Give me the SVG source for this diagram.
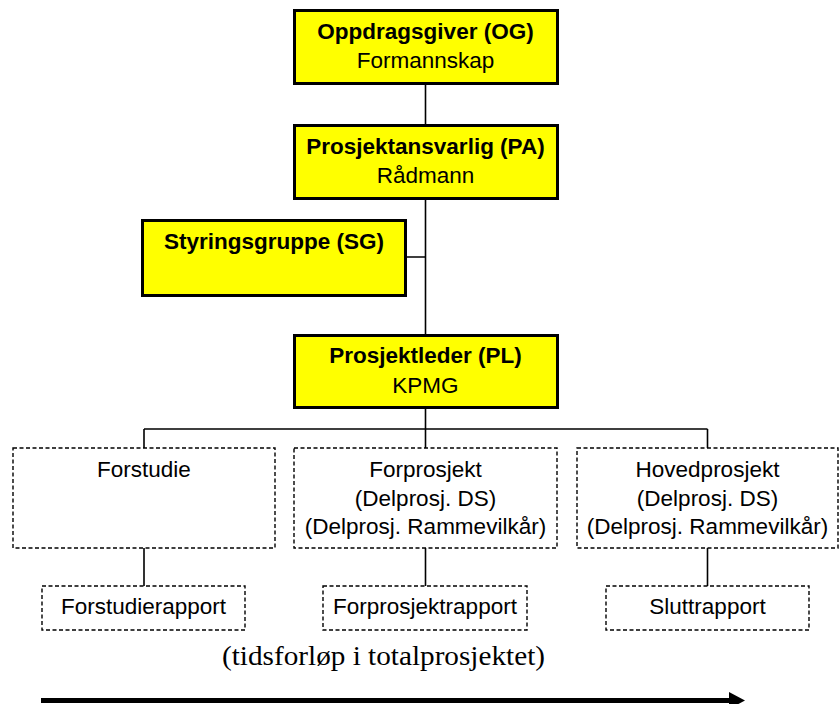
<svg xmlns="http://www.w3.org/2000/svg" width="839" height="704" viewBox="0 0 839 704">
<style>
.y{fill:#FFFF00;stroke:#000;stroke-width:3}
.d{fill:#fff;stroke:#000;stroke-width:1.4;stroke-dasharray:4 2.5}
.t{font-family:"Liberation Sans",Arial,sans-serif;font-size:22.5px;fill:#000;text-anchor:middle}
.b{font-weight:bold}
.c{stroke:#000;stroke-width:1.6;fill:none}
</style>
<rect width="839" height="704" fill="#fff"/>
<g id="connectors">
<path class="c" d="M425.5 84V124M425.5 199V334M406 257H425.5M425.5 408V448M144 429H707.5M144 429V448M707.5 429V448M144 548V586M425.5 548V586M707.5 548V586"/>
</g>
<g id="og"><rect class="y" x="294.5" y="10.5" width="263" height="73"/>
<text class="t b" x="425.5" y="39">Oppdragsgiver (OG)</text>
<text class="t" x="425.5" y="68">Formannskap</text></g>
<g id="pa"><rect class="y" x="294.5" y="125.5" width="263" height="73"/>
<text class="t b" x="425.5" y="154">Prosjektansvarlig (PA)</text>
<text class="t" x="425.5" y="183">Rådmann</text></g>
<g id="sg"><rect class="y" x="142.5" y="220.5" width="263" height="75"/>
<text class="t b" x="274" y="249">Styringsgruppe (SG)</text></g>
<g id="pl"><rect class="y" x="294.5" y="335.5" width="263" height="72"/>
<text class="t b" x="425.5" y="363">Prosjektleder (PL)</text>
<text class="t" x="425.5" y="393">KPMG</text></g>
<g id="forstudie"><rect class="d" x="13" y="448" width="262" height="100"/>
<text class="t" x="144" y="477">Forstudie</text></g>
<g id="forprosjekt"><rect class="d" x="294" y="448" width="263" height="100"/>
<text class="t" x="425.5" y="477">Forprosjekt</text>
<text class="t" x="425.5" y="506">(Delprosj. DS)</text>
<text class="t" x="425.5" y="534">(Delprosj. Rammevilkår)</text></g>
<g id="hovedprosjekt"><rect class="d" x="577" y="448" width="261" height="100"/>
<text class="t" x="707.5" y="477">Hovedprosjekt</text>
<text class="t" x="707.5" y="506">(Delprosj. DS)</text>
<text class="t" x="707.5" y="534">(Delprosj. Rammevilkår)</text></g>
<g id="forstudierapport"><rect class="d" x="42" y="586" width="203" height="44"/>
<text class="t" x="143.5" y="614">Forstudierapport</text></g>
<g id="forprosjektrapport"><rect class="d" x="323" y="586" width="204" height="44"/>
<text class="t" x="425" y="614">Forprosjektrapport</text></g>
<g id="sluttrapport"><rect class="d" x="606" y="586" width="203" height="44"/>
<text class="t" x="707.5" y="614">Sluttrapport</text></g>
<g id="timeline">
<text x="222" y="665" font-family="'Liberation Serif','Times New Roman',serif" font-size="28" textLength="323" lengthAdjust="spacingAndGlyphs" fill="#000">(tidsforløp i totalprosjektet)</text>
<polygon points="41,698 729,698 729,692 745,700.5 729,709 729,703 41,703" fill="#000"/>
</g>
</svg>
